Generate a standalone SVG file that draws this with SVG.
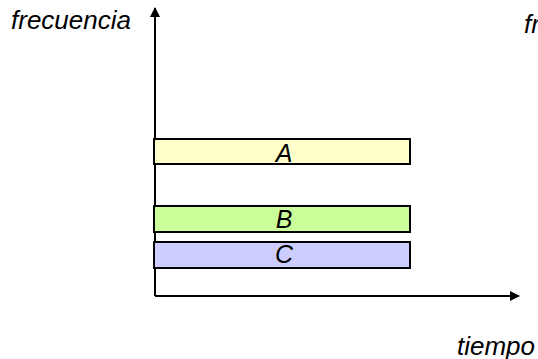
<svg xmlns="http://www.w3.org/2000/svg" width="538" height="359" viewBox="0 0 538 359">
<style>
.t{font-family:"Liberation Sans",Arial,sans-serif;font-style:italic;font-size:26px;fill:#000}
.l{font-family:"Liberation Sans",Arial,sans-serif;font-style:italic;font-size:25px;fill:#000}
.bar{stroke:#000;stroke-width:2}
.ax{stroke:#000;stroke-width:2;fill:none}
</style>
<defs>
<marker id="ah" viewBox="0 0 10 10" refX="9" refY="5" markerWidth="11" markerHeight="10" markerUnits="userSpaceOnUse" orient="auto">
<path d="M0,0 L10,5 L0,10 z" fill="#000"/>
</marker>
</defs>
<rect width="538" height="359" fill="#fff"/>
<g id="connectors">
<path class="ax" d="M155,296 L155,8" marker-end="url(#ah)"/>
<path class="ax" d="M155,296 L519,296" marker-end="url(#ah)"/>
</g>
<g id="A">
<rect class="bar" x="154" y="139" width="256" height="25" fill="#FFFFCC"/>
<text class="l" x="284" y="162" text-anchor="middle">A</text>
</g>
<g id="B">
<rect class="bar" x="154" y="206" width="256" height="26" fill="#CCFF99"/>
<text class="l" x="284" y="228" text-anchor="middle">B</text>
</g>
<g id="C">
<rect class="bar" x="154" y="242" width="256" height="26" fill="#CCCCFF"/>
<text class="l" x="284" y="263" text-anchor="middle">C</text>
</g>
<text class="t" x="11" y="29">frecuencia</text>
<text class="t" x="524" y="33">fr</text>
<text class="t" x="457" y="355">tiempo</text>
</svg>
